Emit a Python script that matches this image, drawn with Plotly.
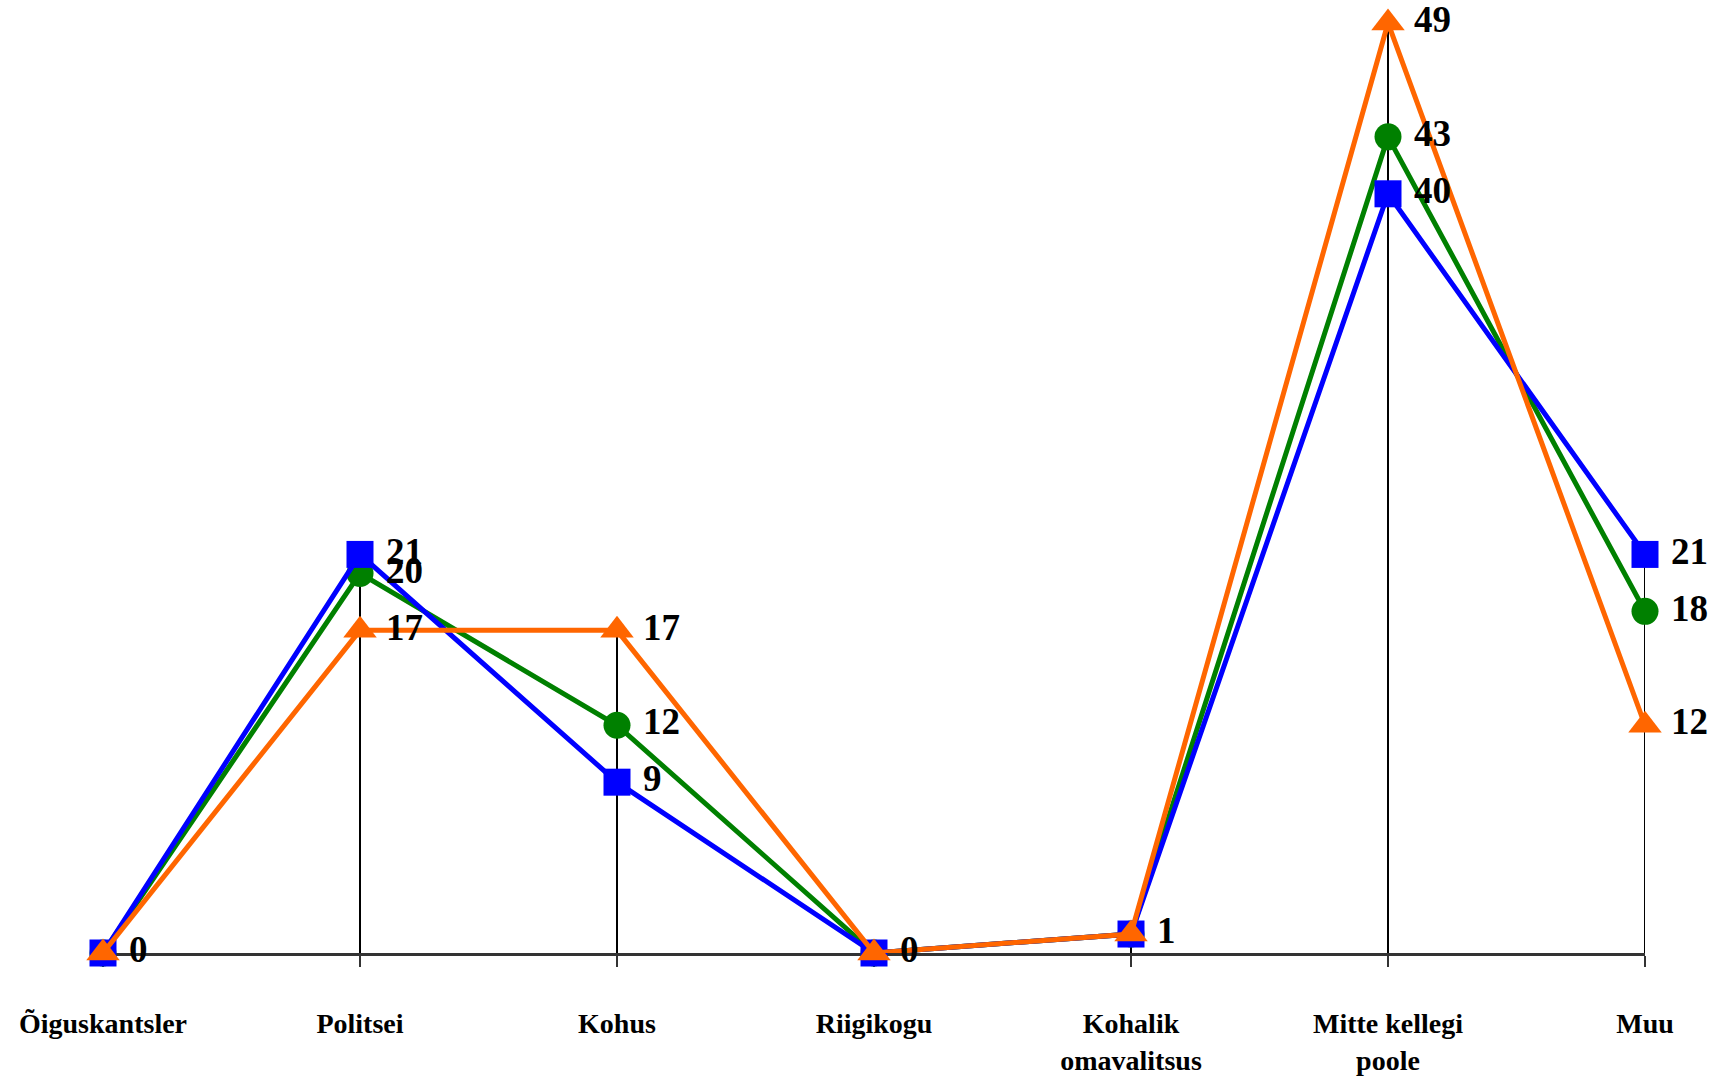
import plotly.graph_objects as go

categories = ["Õiguskantsler", "Politsei", "Kohus", "Riigikogu",
              "Kohalik<br>omavalitsus", "Mitte kellegi<br>poole", "Muu"]

blue_values = [0, 21, 9, 0, 1, 40, 21]
green_values = [0, 20, 12, 0, 1, 43, 18]
orange_values = [0, 17, 17, 0, 1, 49, 12]

# which points carry a value label
blue_labeled = [True, True, True, True, True, True, True]
green_labeled = [False, True, True, False, False, True, True]
orange_labeled = [False, True, True, False, False, True, True]

x_idx = list(range(len(categories)))

fig = go.Figure()

# drop lines from axis to the highest point of each category
drop_x, drop_y = [], []
for i in x_idx:
    top = max(blue_values[i], green_values[i], orange_values[i])
    if top > 0:
        drop_x += [i, i, None]
        drop_y += [0, top, None]
fig.add_trace(go.Scatter(x=drop_x, y=drop_y, mode="lines",
                         line=dict(color="black", width=2),
                         hoverinfo="skip", showlegend=False))

label_font = dict(family="Liberation Serif", size=37, color="black", weight="bold")

series = [
    (green_values, green_labeled, "#008000", "circle", 27),
    (blue_values, blue_labeled, "#0000FF", "square", 27),
    (orange_values, orange_labeled, "#FF6600", "triangle-up", 29),
]

for values, labeled, color, symbol, msize in series:
    fig.add_trace(go.Scatter(
        x=x_idx, y=values, mode="lines+markers",
        line=dict(color=color, width=5),
        marker=dict(color=color, symbol=symbol, size=msize, line=dict(width=0)),
        cliponaxis=False, showlegend=False,
    ))

# value labels (on top of everything)
for values, labeled, color, symbol, msize in series:
    fig.add_trace(go.Scatter(
        x=x_idx, y=values, mode="markers+text",
        marker=dict(color="rgba(0,0,0,0)", size=40),
        text=[str(v) if s else "" for v, s in zip(values, labeled)],
        textposition="middle right",
        textfont=label_font,
        cliponaxis=False, showlegend=False, hoverinfo="skip",
    ))

fig.update_layout(
    width=1727, height=1080,
    paper_bgcolor="white", plot_bgcolor="white",
    margin=dict(l=103, r=82, t=4, b=119),
    xaxis=dict(
        range=[0, 6], tickmode="array", tickvals=x_idx, ticktext=categories,
        showgrid=False, zeroline=False, layer="below traces",
        showline=True, linecolor="#333333", linewidth=2.5,
        ticks="outside", ticklen=11, tickwidth=2, tickcolor="#333333",
        ticklabelstandoff=33,
        tickfont=dict(family="Liberation Serif", size=28, color="black", weight="bold"),
    ),
    yaxis=dict(range=[0, 50], visible=False, showgrid=False, zeroline=False),
)

fig.write_html("out.html",
               config={"displayModeBar": False},
               post_script="document.body.style.margin='0';document.body.style.overflow='hidden';")
